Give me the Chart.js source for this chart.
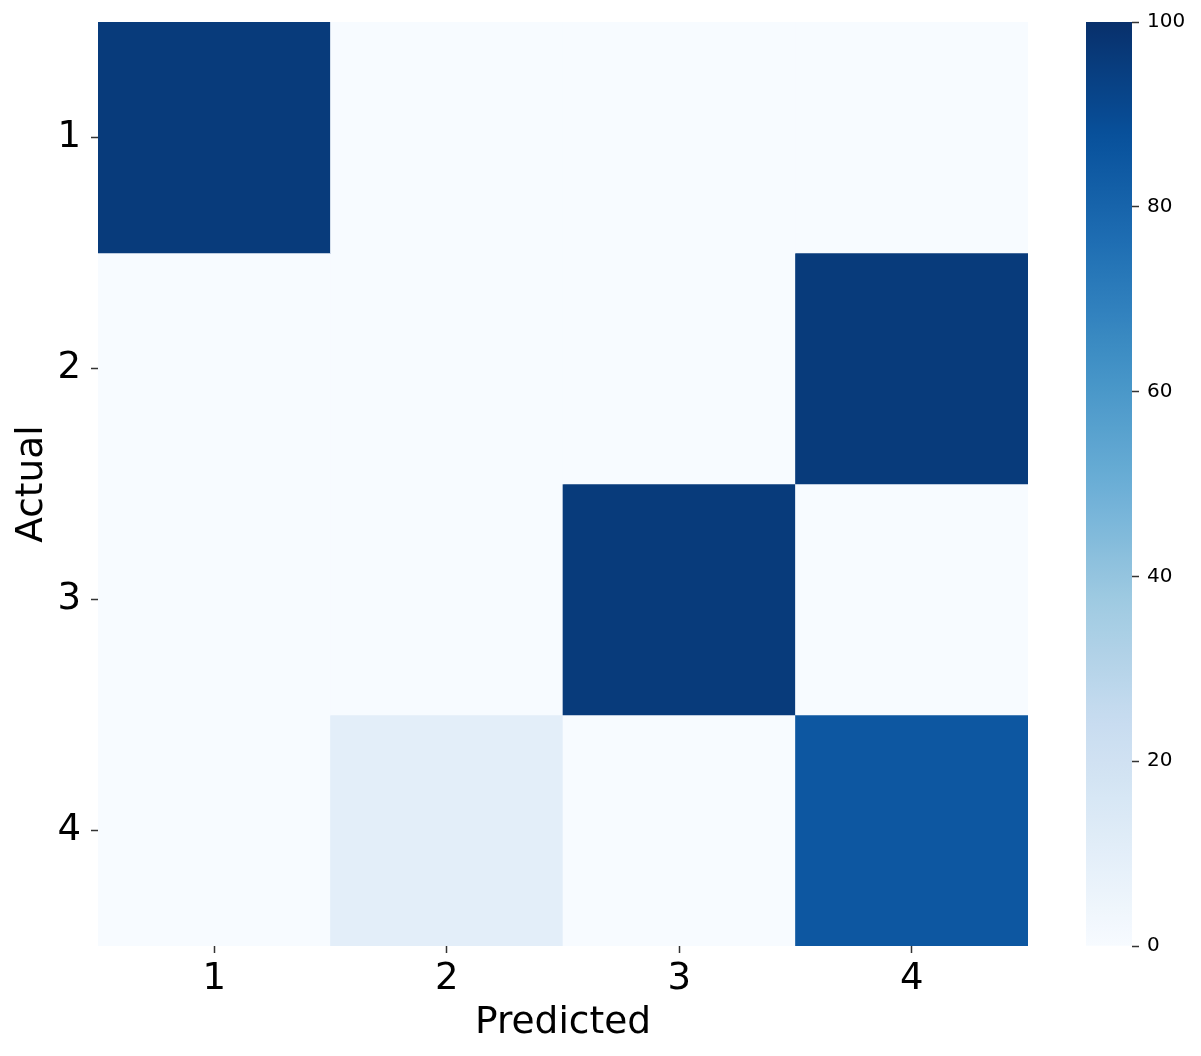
<!DOCTYPE html>
<html>
<head>
<meta charset="utf-8">
<script src="https://cdn.jsdelivr.net/npm/chart.js@4/dist/chart.umd.min.js"></script>
<style>
  body { margin: 0; background: #fff; }
  #wrap { position: relative; width: 1201px; height: 1056px; }
  #heat { position: absolute; left: 0; top: 0; }
  #cbar { position: absolute; left: 1040px; top: 0; }
</style>
</head>
<body>
<div id="wrap">
  <canvas id="heat" width="1028" height="1056"></canvas>
  <canvas id="cbar" width="161" height="1056"></canvas>
</div>
<script>
// confusion matrix, rows = actual, columns = predicted (percent)
var predictedLabels = ['1', '2', '3', '4'];
var actualLabels = ['1', '2', '3', '4'];
var actual1 = [96, 0, 0, 0];
var actual2 = [0, 0, 0, 96];
var actual3 = [0, 0, 96, 0];
var actual4 = [0, 10, 0, 85];
var rows = [actual1, actual2, actual3, actual4];
var cbarTicks = [0, 20, 40, 60, 80, 100];
var vmin = 0, vmax = 100;

// matplotlib "Blues"
var blues = [
    [247, 251, 255], [222, 235, 247], [198, 219, 239], [158, 202, 225], [107, 174, 214],
    [66, 146, 198], [33, 113, 181], [8, 81, 156], [8, 48, 107]
];
function bluesColor(t) {
    t = Math.max(0, Math.min(1, t));
    var p = t * (blues.length - 1);
    var i = Math.min(Math.floor(p), blues.length - 2);
    var f = p - i;
    var c = blues[i].map(function(v, k) { return Math.round(v + (blues[i + 1][k] - v) * f); });
    return 'rgb(' + c.join(',') + ')';
}

var font = 'DejaVu Sans';

var datasets = rows.map(function(row, r) {
    var y = r + 1;
    return {
        label: 'Actual ' + actualLabels[r],
        data: row.map(function() { return [y - 0.5, y + 0.5]; }),
        backgroundColor: row.map(function(v) { return bluesColor((v - vmin) / (vmax - vmin)); }),
        borderWidth: 0,
        grouped: false,
        barPercentage: 1,
        categoryPercentage: 1
    };
});

new Chart(document.getElementById('heat'), {
    type: 'bar',
    data: { labels: predictedLabels, datasets: datasets },
    options: {
        responsive: false,
        animation: false,
        layout: { padding: { top: 22, right: 0, left: 0, bottom: 0 } },
        plugins: { legend: { display: false }, tooltip: { enabled: false } },
        scales: {
            x: {
                offset: true,
                grid: { drawOnChartArea: false, tickLength: 7, tickColor: '#333', tickWidth: 1.5, offset: false },
                border: { display: false },
                ticks: { color: '#000', font: { family: font, size: 37 }, padding: 4 },
                title: { display: true, text: 'Predicted', color: '#000', font: { family: font, size: 37.5, lineHeight: 1.2 }, padding: { top: 0, bottom: 10 } },
                afterFit: function(s) { s.height = 110; s.paddingLeft = 0; s.paddingRight = 0; }
            },
            y: {
                reverse: true,
                min: 0.5,
                max: 4.5,
                afterBuildTicks: function(s) { s.ticks = actualLabels.map(function(l, i) { return { value: i + 1 }; }); },
                grid: { drawOnChartArea: false, tickLength: 7, tickColor: '#333', tickWidth: 1.5 },
                border: { display: false },
                ticks: {
                    color: '#000', font: { family: font, size: 37 }, padding: 10,
                    callback: function(v, i) { return actualLabels[i]; }
                },
                title: { display: true, text: 'Actual', color: '#000', font: { family: font, size: 37.5, lineHeight: 1.2 }, padding: 10 },
                afterFit: function(s) { s.width = 98; s.paddingTop = 0; s.paddingBottom = 0; }
            }
        }
    }
});

new Chart(document.getElementById('cbar'), {
    type: 'bar',
    data: {
        labels: [''],
        datasets: [{
            data: [[vmin, vmax]],
            borderWidth: 0,
            barPercentage: 1,
            categoryPercentage: 1,
            backgroundColor: function(ctx) {
                var area = ctx.chart.chartArea;
                if (!area) return '#fff';
                var g = ctx.chart.ctx.createLinearGradient(0, area.bottom, 0, area.top);
                for (var i = 0; i <= 50; i++) g.addColorStop(i / 50, bluesColor(i / 50));
                return g;
            }
        }]
    },
    options: {
        responsive: false,
        animation: false,
        layout: { padding: { top: 22, left: 46, right: 0, bottom: 110 } },
        plugins: { legend: { display: false }, tooltip: { enabled: false } },
        scales: {
            x: { display: false, offset: true },
            y: {
                position: 'right',
                min: vmin,
                max: vmax,
                afterBuildTicks: function(s) { s.ticks = cbarTicks.map(function(v) { return { value: v }; }); },
                grid: { drawOnChartArea: false, tickLength: 7, tickColor: '#333', tickWidth: 1.5 },
                border: { display: false },
                ticks: { color: '#000', font: { family: font, size: 20 }, padding: 8 },
                afterFit: function(s) { s.width = 69; s.paddingTop = 0; s.paddingBottom = 0; }
            }
        }
    }
});
</script>
</body>
</html>
